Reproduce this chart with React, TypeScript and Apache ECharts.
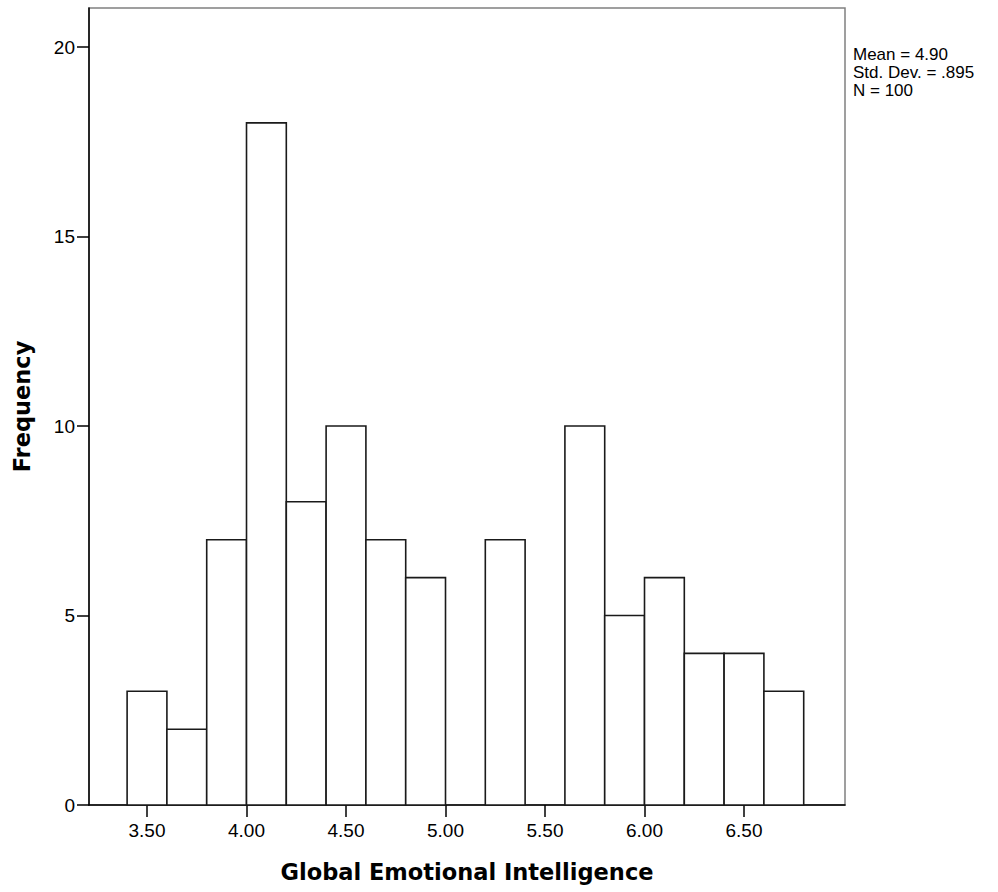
import React, { useEffect, useRef } from "react";
import * as echarts from "echarts";

const binLower = [3.4, 3.6, 3.8, 4.0, 4.2, 4.4, 4.6, 4.8, 5.0, 5.2, 5.4, 5.6, 5.8, 6.0, 6.2, 6.4, 6.6];
const binUpper = [3.6, 3.8, 4.0, 4.2, 4.4, 4.6, 4.8, 5.0, 5.2, 5.4, 5.6, 5.8, 6.0, 6.2, 6.4, 6.6, 6.8];
const frequency = [3, 2, 7, 18, 8, 10, 7, 6, 0, 7, 0, 10, 5, 6, 4, 4, 3];
const xTickValues = [3.5, 4.0, 4.5, 5.0, 5.5, 6.0, 6.5];
const yTickValues = [0, 5, 10, 15, 20];
const statsLines = ["Mean = 4.90", "Std. Dev. = .895", "N = 100"];
const xTitle = "Global Emotional Intelligence";
const yTitle = "Frequency";

export default function App() {
  const ref = useRef<HTMLDivElement>(null);
  useEffect(() => {
    if (!ref.current) return;
    const chart = echarts.init(ref.current, undefined, { renderer: "svg" });
    const data = binLower.map((lo, i) => [lo, binUpper[i], frequency[i]]);
    const tickFont = "Liberation Sans, Arial, sans-serif";
    chart.setOption({
      animation: false,
      backgroundColor: "#ffffff",
      grid: {
        left: 89,
        top: 8,
        right: 153,
        bottom: 87,
        show: true,
        borderColor: "#808080",
        borderWidth: 1.5,
        backgroundColor: "transparent",
      },
      xAxis: {
        type: "value",
        min: 3.2085,
        max: 7.0075,
        name: xTitle,
        nameLocation: "middle",
        nameGap: 55,
        nameTextStyle: {
          fontFamily: "DejaVu Sans, sans-serif",
          fontWeight: "bold",
          fontSize: 22.5,
          color: "#000",
        },
        axisLine: { show: true, onZero: false, lineStyle: { color: "#000", width: 1.5 } },
        axisTick: {
          show: true,
          length: 12,
          customValues: xTickValues,
          lineStyle: { color: "#000", width: 1.5 },
        },
        axisLabel: {
          customValues: xTickValues,
          formatter: (v: number) => v.toFixed(2),
          fontFamily: tickFont,
          fontSize: 19,
          color: "#000",
          margin: 16,
        },
        splitLine: { show: false },
      },
      yAxis: {
        type: "value",
        min: 0,
        max: 21.03,
        name: yTitle,
        nameLocation: "middle",
        nameGap: 56,
        nameTextStyle: {
          fontFamily: "DejaVu Sans, sans-serif",
          fontWeight: "bold",
          fontSize: 22.5,
          color: "#000",
        },
        axisLine: { show: true, onZero: false, lineStyle: { color: "#000", width: 1.5 } },
        axisTick: {
          show: true,
          length: 12,
          customValues: yTickValues,
          lineStyle: { color: "#000", width: 1.5 },
        },
        axisLabel: {
          customValues: yTickValues,
          fontFamily: tickFont,
          fontSize: 19,
          color: "#000",
          margin: 14,
        },
        splitLine: { show: false },
      },
      graphic: [
        {
          type: "text",
          left: 853,
          top: 45,
          style: {
            text: statsLines.join("\n"),
            font: "17px Liberation Sans, Arial, sans-serif",
            lineHeight: 18,
            fill: "#000",
          },
        },
      ],
      series: [
        {
          type: "custom",
          data,
          encode: { x: [0, 1], y: 2 },
          renderItem: (params: any, api: any) => {
            const lo = api.value(0);
            const hi = api.value(1);
            const f = api.value(2);
            if (!f) return null;
            const p0 = api.coord([lo, f]);
            const p1 = api.coord([hi, 0]);
            return {
              type: "rect",
              shape: { x: p0[0], y: p0[1], width: p1[0] - p0[0], height: p1[1] - p0[1] },
              style: { fill: "#ffffff", stroke: "#1a1a1a", lineWidth: 1.6 },
            };
          },
        },
      ],
    });
    return () => chart.dispose();
  }, []);
  return (
    <div
      ref={ref}
      style={{ position: "fixed", left: 0, top: 0, width: 998, height: 892, background: "#fff" }}
    />
  );
}
